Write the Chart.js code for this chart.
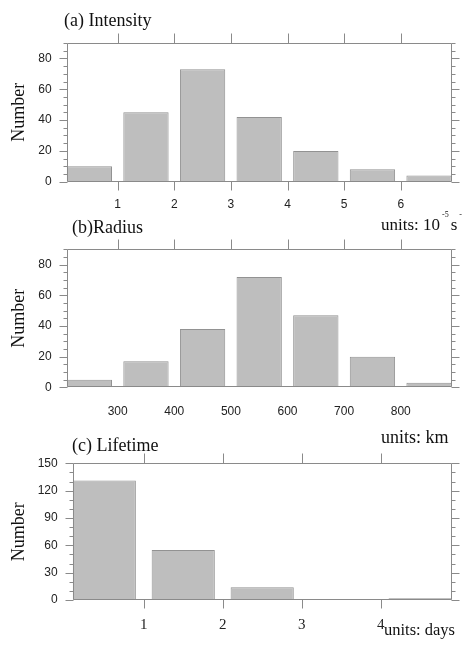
<!DOCTYPE html>
<html>
<head>
<meta charset="utf-8">
<script src="https://cdn.jsdelivr.net/npm/chart.js@4.4.1/dist/chart.umd.min.js"></script>
<style>
  html, body { margin: 0; padding: 0; background: #fff; }
  #page { position: relative; width: 462px; height: 649px; overflow: hidden;
          font-family: 'Liberation Serif', 'Times New Roman', serif; color: #111; }
  .panel { position: absolute; left: 0; width: 462px; }
  .lbl { position: absolute; white-space: nowrap; font-size: 18px; line-height: 18px; }
  .sup { font-size: 8px; position: relative; top: -13px; }
</style>
</head>
<body>
<div id="page">
  <div class="panel" style="top:0;height:210px"><canvas id="chartA"></canvas></div>
  <div class="panel" style="top:210px;height:210px"><canvas id="chartB"></canvas></div>
  <div class="panel" style="top:420px;height:229px"><canvas id="chartC"></canvas></div>

  <div class="lbl" style="left:64px;top:11px">(a) Intensity</div>
  <div class="lbl" style="left:72px;top:218px">(b)Radius</div>
  <div class="lbl" style="left:72px;top:436px">(c) Lifetime</div>

  <div class="lbl" style="left:381px;top:216px;font-size:17px">units: 10<span class="sup">&nbsp;-5&nbsp;</span>s<span class="sup">&nbsp;-</span></div>
  <div class="lbl" style="left:381px;top:428px">units: km</div>
  <div class="lbl" style="left:384px;top:621px;font-size:16.5px">units: days</div>
</div>

<script>
// ---- data ----
// (a) intensity, bins of 1 (units 10^-5 s^-1)
const binsA = [0.5, 1.5, 2.5, 3.5, 4.5, 5.5, 6.5];
const countsA = [10, 45, 73, 42, 20, 8, 4];
const xTicksA = [1, 2, 3, 4, 5, 6];
const yTicksA = [0, 20, 40, 60, 80];

// (b) radius, bins of 100 km
const binsB = [250, 350, 450, 550, 650, 750, 850];
const countsB = [5, 17, 38, 72, 47, 20, 3];
const xTicksB = [300, 400, 500, 600, 700, 800];
const yTicksB = [0, 20, 40, 60, 80];

// (c) lifetime, bins of 1 day
const binsC = [0.5, 1.5, 2.5, 3.5, 4.5];
const countsC = [131, 55, 14, 0, 2];
const xTicksC = [1, 2, 3, 4];
const yTicksC = [0, 30, 60, 90, 120, 150];

const LINE = '#8a8a8a';

// frame box + outward major/minor ticks on all four sides
const frameTicks = {
  id: 'frameTicks',
  afterDatasetsDraw(chart, args, opts) {
    const { ctx, chartArea: a, scales: { x, y } } = chart;
    const L = Math.round(a.left) + 0.5, R = Math.round(a.right) - 0.5;
    const T = Math.round(a.top) + 0.5, B = Math.round(a.bottom) - 0.5;
    ctx.save();
    ctx.strokeStyle = LINE;
    ctx.lineWidth = 1;
    ctx.beginPath();
    ctx.rect(L, T, R - L, B - T);

    const majors = y.ticks.map(t => t.value);
    majors.forEach(v => {
      const py = Math.round(y.getPixelForValue(v)) + 0.5;
      ctx.moveTo(L - 8, py); ctx.lineTo(L, py);
      ctx.moveTo(R, py); ctx.lineTo(R + 8, py);
    });
    for (let v = y.min; v <= y.max + 1e-6; v += opts.minor) {
      if (majors.some(m => Math.abs(m - v) < 1e-6)) continue;
      const py = Math.round(y.getPixelForValue(v)) + 0.5;
      ctx.moveTo(L - 4, py); ctx.lineTo(L, py);
      ctx.moveTo(R, py); ctx.lineTo(R + 4, py);
    }
    x.ticks.forEach(t => {
      const px = Math.round(x.getPixelForValue(t.value)) + 0.5;
      ctx.moveTo(px, T - 10); ctx.lineTo(px, T);
      if (opts.bottom) { ctx.moveTo(px, B); ctx.lineTo(px, B + 9); }
    });
    ctx.stroke();
    ctx.restore();
  }
};

function makePanel(id, bins, counts, xr, xTicks, yMax, yTicks, p) {
  return new Chart(document.getElementById(id), {
    type: 'bar',
    data: {
      datasets: [{
        data: bins.map((b, i) => ({ x: b, y: counts[i] })),
        backgroundColor: '#bebebe',
        borderColor: '#929292',
        borderWidth: 1,
        barPercentage: 0.8,
        categoryPercentage: 1.0
      }]
    },
    plugins: [frameTicks],
    options: {
      responsive: true,
      maintainAspectRatio: false,
      animation: false,
      layout: { padding: { top: p.top, right: p.right, left: 0, bottom: 0 } },
      plugins: {
        legend: { display: false },
        tooltip: { enabled: false },
        frameTicks: { minor: p.minor, bottom: p.bottomTicks }
      },
      scales: {
        x: {
          type: 'linear',
          min: xr[0], max: xr[1],
          offset: false,
          grid: { display: false, drawTicks: false },
          border: { display: false },
          afterBuildTicks: s => { s.ticks = xTicks.map(v => ({ value: v })); },
          afterFit: s => { s.height = p.xHeight; },
          ticks: {
            padding: p.xPad, maxRotation: 0, autoSkip: false, color: '#222',
            font: p.xFont
          }
        },
        y: {
          min: 0, max: yMax,
          grid: { display: false, drawTicks: false },
          border: { display: false },
          afterBuildTicks: s => { s.ticks = yTicks.map(v => ({ value: v })); },
          afterFit: s => { s.width = p.left; },
          ticks: {
            padding: 15, color: '#222',
            font: { family: "'Liberation Sans', Arial, sans-serif", size: 12 }
          },
          title: {
            display: true, text: 'Number', color: '#111',
            font: { family: "'Liberation Serif', 'Times New Roman', serif", size: 18 },
            padding: { top: 8.4, bottom: 0 }
          }
        }
      }
    }
  });
}

const sansTick = { family: "'Liberation Sans', Arial, sans-serif", size: 12 };
const serifTick = { family: "'Liberation Serif', 'Times New Roman', serif", size: 15 };

makePanel('chartA', binsA, countsA, [0.1, 6.9], xTicksA, 90, yTicksA,
  { top: 43, right: 10.3, left: 66.7, xHeight: 28.3, xPad: 16.1, xFont: sansTick, minor: 5, bottomTicks: true });

makePanel('chartB', binsB, countsB, [210, 890], xTicksB, 90, yTicksB,
  { top: 39.3, right: 10.3, left: 66.7, xHeight: 32.7, xPad: 17.2, xFont: sansTick, minor: 5, bottomTicks: false });

makePanel('chartC', binsC, countsC, [0.1, 4.9], xTicksC, 150, yTicksC,
  { top: 43.3, right: 10.3, left: 72.7, xHeight: 49, xPad: 16, xFont: serifTick, minor: 10, bottomTicks: true });
</script>
</body>
</html>
